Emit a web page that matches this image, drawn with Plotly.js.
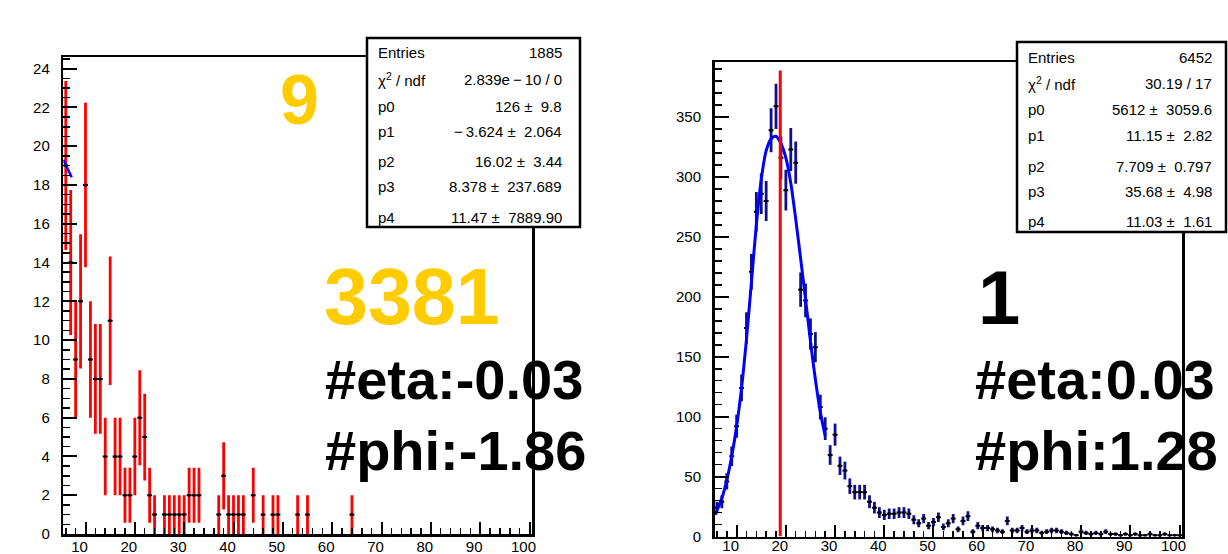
<!DOCTYPE html>
<html>
<head>
<meta charset="utf-8">
<script src="https://cdn.plot.ly/plotly-3.0.1.min.js"></script>
<style>html,body{margin:0;padding:0;background:#fff;}#chart{width:1228px;height:554px;}</style>
</head>
<body>
<div id="chart"></div>
<script>
// ---------------- DATA ----------------
// Left histogram (non-empty bins only), bin centres and counts
const leftBins   = [6,7,8,9,10,11,12,13,14,15,16,17,18,19,20,21,22,23,24,26,27,28,29,30,31,32,33,37,38,39,40,41,42,44,46,48,49,53,55,64];
const leftCounts = [19,14,9,12,18,9,8,8,4,11,4,4,2,2,4,6,5,2,1,1,1,1,1,1,2,2,2,1,3,1,1,1,1,2,1,1,1,1,1,1];
// Left fit curve (only a short piece is visible)
const leftFitX = [5.5, 6.3, 7.2];
const leftFitY = [19.3, 18.9, 18.4];

// Right histogram, bins 6..100
const rightBins = [6,7,8,9,10,11,12,13,14,15,16,17,18,19,20,21,22,23,24,25,26,27,28,29,30,31,32,33,34,35,36,37,38,39,40,41,42,43,44,45,46,47,48,49,50,51,52,53,54,55,56,57,58,59,60,61,62,63,64,65,66,67,68,69,70,71,72,73,74,75,76,77,78,79,80,81,82,83,84,85,86,87,88,89,90,91,92,93,94,95,96,97,98,99,100];
const rightCounts = [24,29,46,67,92,124,174,221,271,286,280,339,359,316,289,323,312,206,197,169,158,108,90,68,85,59,55,42,37,37,37,29,24,20,18,19,19,20,20,19,14,11,15,9,12,16,8,11,15,6,13,17,4,9,7,7,6,5,4,13,5,5,7,4,5,5,3,4,5,5,4,3,2,1,4,3,2,3,2,4,2,2,1,2,1,2,1,1,2,1,1,2,1,1,1];
// Right fit curve
const rightFitX = [5.6,6,7,8,9,10,11,12,13,14,15,16,17,18,19,20,21,22,23,24,25,26,27,28];
const rightFitY = [18,22,32,47,67,92,124,165,212,260,298,322,332,334,328,316,295,265,232,198,163,131,104,84];
// Vertical marker line
const rightLineX = 18.86;
const rightLineTop = 389;

// Axis ticks
const xTicks = [10,20,30,40,50,60,70,80,90,100];
const leftYTicks = [0,2,4,6,8,10,12,14,16,18,20,22,24];
const rightYTicks = [0,50,100,150,200,250,300,350];

// Texts
const leftBigTexts  = ["9", "3381", "#eta:-0.03", "#phi:-1.86"];
const rightBigTexts = ["1", "#eta:0.03", "#phi:1.28"];
const statLabels = ["Entries", "\u03c7<sup>2</sup> / ndf", "p0", "p1", "p2", "p3", "p4"];
const leftStatValues  = ["1885", "2.839e\u2009\u2212\u200910 / 0", "126 \u00b1\u00a0 9.8", "\u2212\u20093.624 \u00b1\u00a0 2.064", "16.02 \u00b1\u00a0 3.44", "8.378 \u00b1\u00a0 237.689", "11.47 \u00b1\u00a0 7889.90"];
const rightStatValues = ["6452", "30.19 / 17", "5612 \u00b1\u00a0 3059.6", "11.15 \u00b1\u00a0 2.82", "7.709 \u00b1\u00a0 0.797", "35.68 \u00b1\u00a0 4.98", "11.03 \u00b1\u00a0 1.61"];

// ---------------- LAYOUT GEOMETRY (pixels) ----------------
const W = 1228, H = 554;
const L = {x0: 63.3, x1: 532, yTop: 57, yBot: 534, xr:[5.5,100.5], yr:[0,24.6]};
const R = {x0: 714.5, x1: 1182, yTop: 62, yBot: 536.5, xr:[5.5,100.5], yr:[0,396]};
const px2x = (P, px) => P.xr[0] + (px - P.x0) / (P.x1 - P.x0) * (P.xr[1] - P.xr[0]);
const py2y = (P, py) => P.yr[0] + (P.yBot - py) / (P.yBot - P.yTop) * (P.yr[1] - P.yr[0]);
const fx = px => px / W, fy = py => 1 - py / H;

const FONT = "Liberation Sans, Arial, Helvetica, sans-serif";
const GOLD = "#ffcc00";
const NAVY = "#10108c";

function histTrace(xs, ys, xa, ya, ecol) {
  return {
    type: 'scatter', mode: 'markers', x: xs, y: ys, xaxis: xa, yaxis: ya,
    marker: {color: 'black', size: 3},
    error_y: {type: 'sqrt', color: ecol, thickness: 2.8, width: 0},
    error_x: {type: 'constant', value: 0.5, color: 'black', thickness: 2, width: 0},
    hoverinfo: 'skip', showlegend: false
  };
}

const traces = [];
traces.push(histTrace(leftBins, leftCounts, 'x', 'y', '#ff0000'));
traces.push({type:'scatter', mode:'lines', x:leftFitX, y:leftFitY, xaxis:'x', yaxis:'y',
  line:{color:'#0000ff', width:2.5}, showlegend:false, hoverinfo:'skip'});
traces.push(histTrace(rightBins, rightCounts, 'x2', 'y2', NAVY));
traces.push({type:'scatter', mode:'lines', x:rightFitX, y:rightFitY, xaxis:'x2', yaxis:'y2',
  line:{color:'#0000ff', width:3, shape:'spline', smoothing:0.8}, showlegend:false, hoverinfo:'skip'});
traces.push({type:'scatter', mode:'lines', x:[rightLineX, rightLineX], y:[0, rightLineTop], xaxis:'x2', yaxis:'y2',
  line:{color:'#ff0000', width:3}, showlegend:false, hoverinfo:'skip'});

// Big texts as text traces (so frame lines draw over them)
function textTrace(P, xa, ya, txt, pxLeft, pyMid, size, color) {
  return {type:'scatter', mode:'text', x:[px2x(P, pxLeft)], y:[py2y(P, pyMid)], xaxis:xa, yaxis:ya,
    text:[txt], textposition:'middle right', cliponaxis:false,
    textfont:{family:FONT, size:size, color:color, weight:'bold'}, showlegend:false, hoverinfo:'skip'};
}
traces.push(textTrace(L, 'x', 'y', leftBigTexts[0], 280, 106, 70, GOLD));
traces.push(textTrace(L, 'x', 'y', leftBigTexts[1], 324, 304, 79, GOLD));
traces.push(textTrace(L, 'x', 'y', leftBigTexts[2], 325, 385, 56, 'black'));
traces.push(textTrace(L, 'x', 'y', leftBigTexts[3], 325, 456, 56, 'black'));
traces.push(textTrace(R, 'x2', 'y2', rightBigTexts[0], 978, 305, 76, 'black'));
traces.push(textTrace(R, 'x2', 'y2', rightBigTexts[1], 975, 385, 56, 'black'));
traces.push(textTrace(R, 'x2', 'y2', rightBigTexts[2], 975, 456, 56, 'black'));

function xAxis(P, anchor, standoff) {
  return {domain:[fx(P.x0), fx(P.x1)], range:P.xr, anchor:anchor,
    tickmode:'array', tickvals:xTicks, ticktext:xTicks.map(String),
    ticks:'inside', ticklen:12, tickwidth:2, tickcolor:'black',
    minor:{ticks:'inside', dtick:2, tick0:0, ticklen:6, tickwidth:1.5, tickcolor:'black', showgrid:false},
    showline:true, linecolor:'black', linewidth:2.5, mirror:true,
    showgrid:false, zeroline:false, ticklabelstandoff:standoff, ticklabelshift:-6,
    tickfont:{family:FONT, size:15, color:'black'}};
}
function yAxis(P, anchor, ticks, minorD) {
  return {domain:[fy(P.yBot), fy(P.yTop)], range:P.yr, anchor:anchor,
    tickmode:'array', tickvals:ticks, ticktext:ticks.map(String),
    ticks:'inside', ticklen:14, tickwidth:2, tickcolor:'black',
    minor:{ticks:'inside', dtick:minorD, tick0:0, ticklen:7, tickwidth:1.5, tickcolor:'black', showgrid:false},
    showline:true, linecolor:'black', linewidth:2.5, mirror:true,
    showgrid:false, zeroline:false, ticklabelstandoff:8,
    tickfont:{family:FONT, size:15, color:'black'}};
}

// Stats boxes
const shapes = [];
const annotations = [];
function statBox(x0, x1, y0, y1, rows, labX, valX, values) {
  shapes.push({type:'rect', xref:'paper', yref:'paper', x0:fx(x0), x1:fx(x1), y0:fy(y1), y1:fy(y0),
    fillcolor:'white', line:{color:'black', width:2.5}, layer:'above'});
  rows.forEach((py, i) => {
    annotations.push({xref:'paper', yref:'paper', x:fx(labX), y:fy(py), xanchor:'left', yanchor:'middle',
      text:statLabels[i], showarrow:false, font:{family:FONT, size:15, color:'black'}});
    annotations.push({xref:'paper', yref:'paper', x:fx(valX), y:fy(py), xanchor:'right', yanchor:'middle',
      text:values[i], showarrow:false, font:{family:FONT, size:15, color:'black'}});
  });
}
statBox(367, 580, 38, 227, [52, 79, 106, 131, 161, 186, 217], 376, 564, leftStatValues);
statBox(1017, 1226, 42, 232, [57, 84, 110, 135, 166, 191, 222], 1026, 1214, rightStatValues);

const layout = {
  width: W, height: H, margin:{l:0, r:0, t:0, b:0, pad:0},
  paper_bgcolor:'white', plot_bgcolor:'white', showlegend:false,
  xaxis: xAxis(L, 'y', -3), yaxis: yAxis(L, 'x', leftYTicks, 0.5),
  xaxis2: xAxis(R, 'y2', -6), yaxis2: yAxis(R, 'x2', rightYTicks, 10),
  shapes: shapes, annotations: annotations
};

Plotly.newPlot('chart', traces, layout, {staticPlot:true, displayModeBar:false});
</script>
</body>
</html>
